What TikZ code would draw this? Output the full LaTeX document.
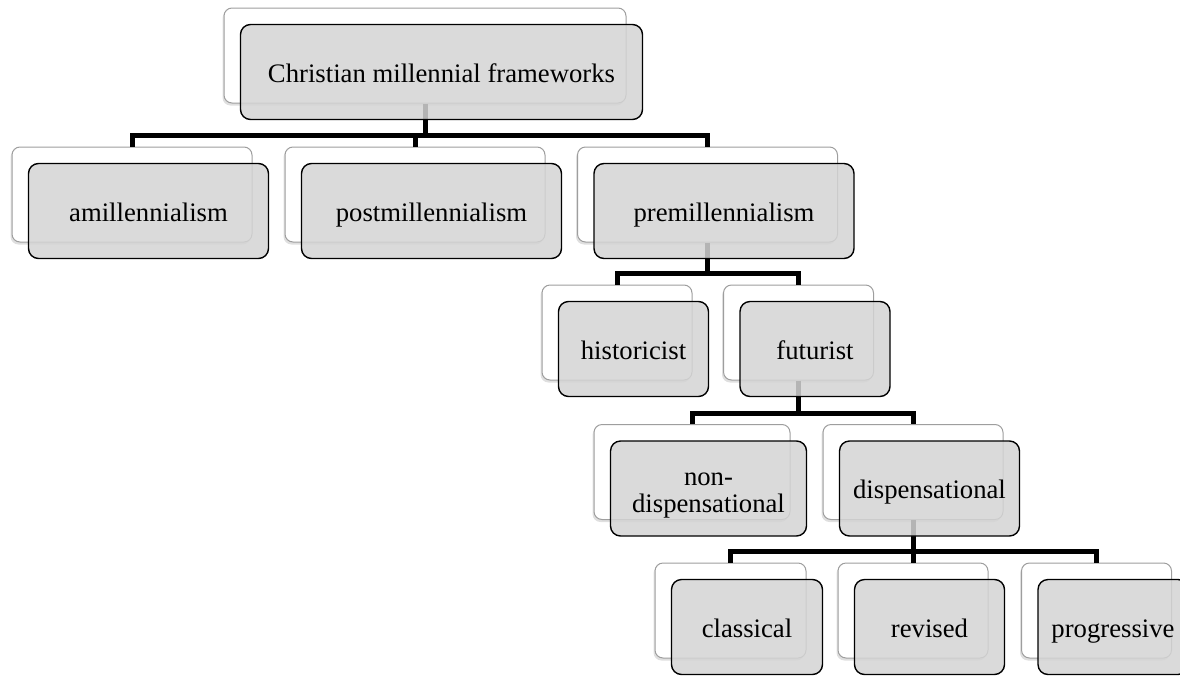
\documentclass[tikz,border=0pt]{standalone}
\usepackage{fontspec}
\setmainfont{Liberation Serif}
\usetikzlibrary{shadows}
\begin{document}
\begin{tikzpicture}[x=1pt,y=-1pt,
  backbox/.style={draw=black!38, line width=1pt, fill=white, rounded corners=8pt,
    minimum height=95pt, inner sep=0pt,
    drop shadow={shadow xshift=-1.5pt, shadow yshift=-2.5pt, opacity=0.25}},
  frontbox/.style={draw=black, line width=1.4pt, fill=black!17, fill opacity=0.85,
    text opacity=1, rounded corners=10pt, minimum height=95pt, inner sep=0pt,
    align=center, text height=26pt, text depth=6pt,
    font=\fontsize{26.7}{27}\selectfont},
  conn/.style={line width=5pt, draw=black}]
\useasboundingbox (0,0) rectangle (1180,675);

% back boxes
\node[backbox, minimum width=402pt] (rootB) at (425,55.5) {};
\node[backbox, minimum width=240pt] (amB) at (132,194.5) {};
\node[backbox, minimum width=260pt] (postB) at (415,194.5) {};
\node[backbox, minimum width=260pt] (preB) at (707.5,194.5) {};
\node[backbox, minimum width=150pt] (histB) at (617,332.5) {};
\node[backbox, minimum width=150pt] (futB) at (798.5,332.5) {};
\node[backbox, minimum width=196pt] (ndB) at (692,472) {};
\node[backbox, minimum width=180pt] (dispB) at (913,472) {};
\node[backbox, minimum width=151pt] (clB) at (730.5,610.5) {};
\node[backbox, minimum width=150pt] (revB) at (913,610.5) {};
\node[backbox, minimum width=150pt] (progB) at (1096.5,610.5) {};

% connectors
\coordinate (j1) at (rootB.south |- 0,135);
\coordinate (j2) at (preB.south |- 0,273);
\coordinate (j3) at (futB.south |- 0,413);
\coordinate (j4) at (dispB.south |- 0,551);
\draw[conn] (rootB.south) -- (j1);
\draw[conn] (amB.north) |- (j1) -| (preB.north);
\draw[conn] (j1) -| (postB.north);
\draw[conn] (preB.south) -- (j2);
\draw[conn] (histB.north) |- (j2) -| (futB.north);
\draw[conn] (futB.south) -- (j3);
\draw[conn] (ndB.north) |- (j3) -| (dispB.north);
\draw[conn] (dispB.south) -- (j4);
\draw[conn] (clB.north) |- (j4) -| (progB.north);
\draw[conn] (j4) -- (revB.north);

% front boxes
\node[frontbox, minimum width=402pt] (root) at ([shift={(16.5,16.5)}]rootB.center) {Christian millennial frameworks};
\node[frontbox, minimum width=240pt] (am) at ([shift={(16.5,16.5)}]amB.center) {amillennialism};
\node[frontbox, minimum width=260pt] (post) at ([shift={(16.5,16.5)}]postB.center) {postmillennialism};
\node[frontbox, minimum width=260pt] (pre) at ([shift={(16.5,16.5)}]preB.center) {premillennialism};
\node[frontbox, minimum width=150pt] (hist) at ([shift={(16.5,16.5)}]histB.center) {historicist};
\node[frontbox, minimum width=150pt] (fut) at ([shift={(16.5,16.5)}]futB.center) {futurist};
\node[frontbox, minimum width=196pt, text height=53pt, text depth=6pt] (nd) at ([shift={(16.5,16.5)}]ndB.center) {non-\\dispensational};
\node[frontbox, minimum width=180pt] (disp) at ([shift={(16.5,16.5)}]dispB.center) {dispensational};
\node[frontbox, minimum width=151pt] (cl) at ([shift={(16.5,16.5)}]clB.center) {classical};
\node[frontbox, minimum width=150pt] (rev) at ([shift={(16.5,16.5)}]revB.center) {revised};
\node[frontbox, minimum width=150pt] (prog) at ([shift={(16.5,16.5)}]progB.center) {progressive};
\end{tikzpicture}
\end{document}
